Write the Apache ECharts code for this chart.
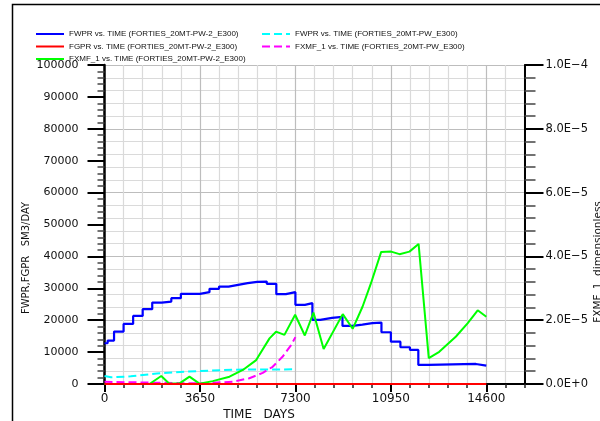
<!DOCTYPE html>
<html>
<head>
<meta charset="utf-8">
<script src="https://cdn.jsdelivr.net/npm/echarts@6/dist/echarts.min.js"></script>
<style>html,body{margin:0;padding:0;background:#fff}#c{width:600px;height:421px}</style>
</head>
<body>
<div id="c"></div>
<script>
// ---- data ----
const xTickLabels = [0, 3650, 7300, 10950, 14600];
const blueT = [0,120,365,730,1095,1460,1825,2190,2555,2920,3650,4015,4380,4745,5110,5475,5840,6205,6570,6935,7300,7665,7950,8250,8700,9100,9490,9860,10240,10590,10950,11315,11680,12000,12400,14200,14600];
const blueV = [12780,13600,16420,18840,21350,23460,25530,25840,26910,28260,28790,29830,30550,31090,31620,32030,32120,31400,28170,28790,24810,25340,20100,20720,21040,18210,18620,19060,19250,16230,13280,11520,10680,5970,6280,5750,5750];
const redT = [0, 14600];
const redV = [0, 0];
const greenT = [0,1720,2170,2480,2870,3250,3630,4140,4780,5290,5800,6310,6560,6880,7290,7660,7990,8380,9110,9490,9870,10190,10580,10960,11280,11660,12010,12400,12800,13440,13890,14270,14600];
const greenV = [0,0,2.5e-6,0.1e-6,0.2e-6,2.3e-6,0.1e-6,0.9e-6,2.3e-6,4.4e-6,7.5e-6,14.3e-6,16.4e-6,15.4e-6,21.7e-6,15.2e-6,22.4e-6,11.0e-6,21.9e-6,17.3e-6,24.3e-6,31.6e-6,41.4e-6,41.5e-6,40.7e-6,41.5e-6,43.9e-6,8.1e-6,10.1e-6,14.9e-6,19.1e-6,23.1e-6,21.1e-6];
const cyanT = [0,250,1000,2000,3650,5000,7300];
const cyanV = [2500,2100,2400,3300,4100,4500,4600];
const magT = [0,1975,3630,4900,5540,6050,6430,6815,7135,7300];
const magV = [0.7e-6,0.4e-6,0.2e-6,0.7e-6,1.8e-6,3.5e-6,5.4e-6,8.6e-6,12.2e-6,14.7e-6];

const names = {
  blue: 'FWPR vs. TIME (FORTIES_20MT-PW-2_E300)',
  red: 'FGPR vs. TIME (FORTIES_20MT-PW-2_E300)',
  green: 'FXMF_1 vs. TIME (FORTIES_20MT-PW-2_E300)',
  cyan: 'FWPR vs. TIME (FORTIES_20MT-PW_E300)',
  mag: 'FXMF_1 vs. TIME (FORTIES_20MT-PW_E300)'
};
const zip = (a, b) => a.map((t, i) => [t, b[i]]);

const MAJ = '#bdbdbd', MIN = '#dadada';
const chart = echarts.init(document.getElementById('c'), null, {renderer: 'canvas'});
const legendText = {fontFamily: 'Liberation Sans', fontSize: 8, color: '#111'};
const legendCommon = {orient: 'vertical', top: 30, padding: 0, itemWidth: 28, itemHeight: 10, itemGap: 4.5,
  textStyle: legendText, itemStyle: {opacity: 0, borderWidth: 0}, selectedMode: false};
chart.setOption({
  animation: false,
  backgroundColor: '#fff',
  grid: {left: 104.5, right: 75.5, top: 65, bottom: 37, containLabel: false},
  legend: [
    Object.assign({data: [names.blue, names.red, names.green], left: 35}, legendCommon),
    Object.assign({data: [names.cyan, names.mag], left: 261}, legendCommon)
  ],
  xAxis: [
    {type: 'value', min: 0, max: 16060, interval: 730,
     axisLine: {onZero: false, lineStyle: {color: '#000', width: 2}},
     axisTick: {inside: false, length: 4, lineStyle: {color: '#222', width: 1.5}},
     axisLabel: {margin: 9, fontFamily: 'DejaVu Sans', fontSize: 12, color: '#111',
       formatter: v => (v % 3650 === 0 ? String(v) : '')},
     splitLine: {show: true, lineStyle: {color: [MAJ, MIN, MIN, MIN, MIN], width: 1.2}}},
    {type: 'value', min: 0, max: 16060, position: 'bottom',
     axisLine: {show: false, onZero: false},
     axisTick: {inside: false, length: 8, customValues: xTickLabels, lineStyle: {color: '#000', width: 2}},
     axisLabel: {show: false},
     splitLine: {show: false}}
  ],
  yAxis: [
    {type: 'value', min: 0, max: 100000, interval: 10000, position: 'left',
     axisLine: {show: true, onZero: false, lineStyle: {color: '#000', width: 2.5}},
     axisTick: {show: true, inside: false, length: 17, lineStyle: {color: '#000', width: 2}},
     minorTick: {show: true, splitNumber: 5, length: 7, lineStyle: {color: '#444', width: 1.5}},
     axisLabel: {margin: 26, fontFamily: 'DejaVu Sans', fontSize: 11, color: '#111',
       formatter: v => String(v)},
     splitLine: {show: false}},
    {type: 'value', min: 0, max: 1e-4, interval: 2e-5, position: 'right',
     axisLine: {show: true, onZero: false, lineStyle: {color: '#000', width: 2}},
     axisTick: {show: true, inside: false, length: 19, lineStyle: {color: '#000', width: 2}},
     minorTick: {show: true, splitNumber: 5, length: 11, lineStyle: {color: '#444', width: 1.5}},
     axisLabel: {margin: 21, fontFamily: 'DejaVu Sans', fontSize: 11.5, color: '#111',
       formatter: v => v.toExponential(1).replace('e', 'E').replace('-', '\u2212')},
     splitLine: {show: true, lineStyle: {color: MAJ, width: 1.2}},
     minorSplitLine: {show: true, lineStyle: {color: MIN, width: 1}}}
  ],
  graphic: [
    {type: 'polyline', silent: true, shape: {points: [[12.5, 421], [12.5, 4.5], [600, 4.5]]},
     style: {stroke: '#000', lineWidth: 1.5, fill: null}},
    {type: 'text', x: 26, y: 258, rotation: Math.PI / 2, silent: true,
     style: {text: 'FWPR,FGPR   SM3/DAY', fontFamily: 'DejaVu Sans', fontSize: 10, fill: '#111',
       align: 'center', verticalAlign: 'middle'}},
    {type: 'text', x: 598, y: 262, rotation: Math.PI / 2, silent: true,
     style: {text: 'FXMF_1  dimensionless', fontFamily: 'DejaVu Sans', fontSize: 10.5, fill: '#111',
       align: 'center', verticalAlign: 'middle'}},
    {type: 'text', x: 259, y: 415, silent: true,
     style: {text: 'TIME   DAYS', fontFamily: 'DejaVu Sans', fontSize: 12, fill: '#111',
       align: 'center', verticalAlign: 'middle'}}
  ],
  series: [
    {name: names.cyan, type: 'line', yAxisIndex: 0, data: zip(cyanT, cyanV), symbol: 'none',
     lineStyle: {color: '#00ffff', width: 2, type: [8, 4]}, itemStyle: {color: '#00ffff'}},
    {name: names.mag, type: 'line', yAxisIndex: 1, data: zip(magT, magV), symbol: 'none',
     lineStyle: {color: '#ff00ff', width: 2, type: [8, 4]}, itemStyle: {color: '#ff00ff'}},
    {name: names.blue, type: 'line', yAxisIndex: 0, step: 'end', data: zip(blueT, blueV), symbol: 'none',
     lineStyle: {color: '#0000ff', width: 2.2}, itemStyle: {color: '#0000ff'}},
    {name: names.green, type: 'line', yAxisIndex: 1, data: zip(greenT, greenV), symbol: 'none',
     lineStyle: {color: '#00ff00', width: 2}, itemStyle: {color: '#00ff00'}},
    {name: names.red, type: 'line', yAxisIndex: 0, data: zip(redT, redV), symbol: 'none',
     lineStyle: {color: '#ff0000', width: 2}, itemStyle: {color: '#ff0000'}}
  ]
});
</script>
</body>
</html>
